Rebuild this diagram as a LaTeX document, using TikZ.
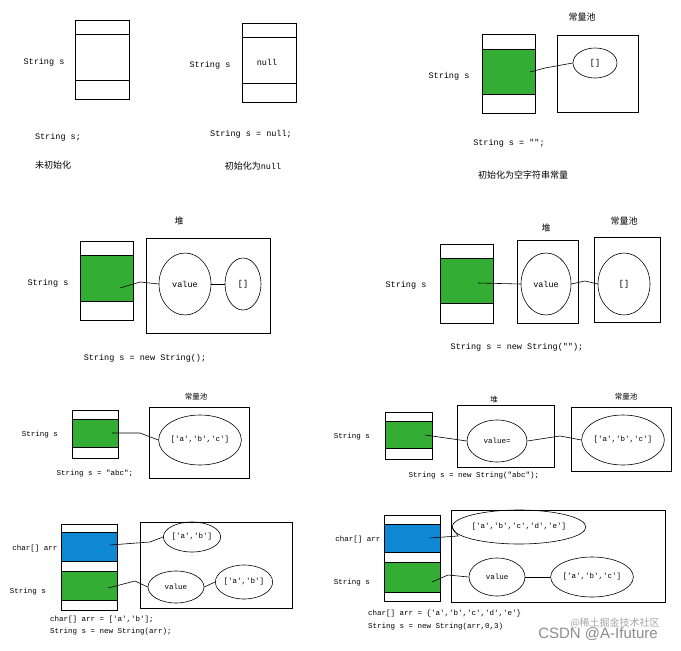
\documentclass[tikz,border=0pt]{standalone}
\usepackage{fontspec}
\usetikzlibrary{shapes.geometric}
\setmainfont{Liberation Mono}[Ligatures=TeXOff]
\newfontfamily\cjk{Noto Sans CJK SC}
\begin{document}
\begin{tikzpicture}[x=1pt,y=-1pt,
  bx/.style={draw,line width=0.8pt},
  gr/.style={draw,line width=0.8pt,fill=green!60!black!80},
  bl/.style={draw,line width=0.8pt,fill=cyan!70!blue},
  el/.style={draw,line width=0.6pt,ellipse},
  t/.style={font=\fontsize{8.5}{9}\selectfont,inner sep=0pt},
  ts/.style={font=\fontsize{7.5}{8}\selectfont,inner sep=0pt},
  c/.style={font=\cjk\fontsize{9}{10}\selectfont,inner sep=0pt},
  ln/.style={line width=0.6pt}]
\useasboundingbox (0,0) rectangle (681,651);
% panel 1
\draw[bx] (75,20) rectangle (129,99); \draw[bx] (75,34) rectangle (129,80);
\node[t] (l1) at (44,62) {String s};
\node[t] (c1) at (58,137) {String s;};
\node[c] (d1) at (53,165) {未初始化};
% panel 2
\draw[bx] (242,23) rectangle (296,102); \draw[bx] (242,37) rectangle (296,83);
\node[t] (n2) at (267,62) {null};
\node[t] (l2) at (210,65) {String s};
\node[t] (c2) at (251,134) {String s = null;};
\node[c] (d2) at (253,166) {初始化为{\fontspec{Liberation Mono}\fontsize{8.5}{9}\selectfont null}};
% panel 3
\draw[bx] (482,34) rectangle (535,113); \draw[gr] (482,49) rectangle (535,94);
\node[t] (l3) at (449,76) {String s};
\draw[bx] (557,35) rectangle (638,112);
\node[c] (p3) at (582,17) {常量池};
\node[el,minimum width=44pt,minimum height=30pt,t] (e3) at (595,63) {[]};
\coordinate (s3) at (530,72);
\draw[ln] (s3) -- (545,68) -- (e3.west);
\node[t] (c3) at (509,143) {String s = "";};
\node[c] (d3) at (523,175) {初始化为空字符串常量};
% panel 4
\draw[bx] (80,241) rectangle (133,320); \draw[gr] (80,255) rectangle (133,301);
\node[t] (l4) at (48,283) {String s};
\draw[bx] (146,238) rectangle (270,333);
\node[c] (h4) at (179,221) {堆};
\node[el,minimum width=52pt,minimum height=62pt,t] (v4) at (185,284) {value};
\node[el,minimum width=36pt,minimum height=52pt,t] (a4) at (243,284) {[]};
\coordinate (s4) at (120,288);
\draw[ln] (s4) -- (140,282) -- (v4.west);
\draw[ln] (v4.east) -- (a4.west);
\node[t] (c4) at (145,358) {String s = new String();};
% panel 5
\draw[bx] (440,244) rectangle (493,323); \draw[gr] (440,258) rectangle (493,303);
\node[t] (l5) at (406,285) {String s};
\draw[bx] (517,240) rectangle (578,323);
\node[c] (h5) at (546,228) {堆};
\node[el,minimum width=50pt,minimum height=62pt,t] (v5) at (546,284) {value};
\draw[bx] (594,237) rectangle (660,322);
\node[c] (p5) at (624,221) {常量池};
\node[el,minimum width=52pt,minimum height=62pt,t] (a5) at (624,284) {[]};
\coordinate (s5) at (478,283);
\draw[ln] (s5) -- (v5.west);
\draw[ln] (v5.east) -- (585,281) -- (a5.west);
\node[t] (c5) at (517,347) {String s = new String("");};
% panel 6
\draw[bx] (72,410) rectangle (118,458); \draw[gr] (72,419) rectangle (118,447);
\node[ts] (l6) at (40,435) {String s};
\draw[bx] (149,407) rectangle (249,478);
\node[c,font=\cjk\fontsize{7.5}{8}\selectfont] (p6) at (196,397) {常量池};
\node[el,minimum width=82pt,minimum height=50pt,ts] (e6) at (200,440) {['a','b','c']};
\coordinate (s6) at (112,433);
\draw[ln] (s6) -- (140,433) -- (e6.west);
\node[ts] (c6) at (95,474) {String s = "abc";};
% panel 7
\draw[bx] (385,412) rectangle (432,459); \draw[gr] (385,421) rectangle (432,448);
\node[ts] (l7) at (352,437) {String s};
\draw[bx] (457,405) rectangle (554,467);
\node[c,font=\cjk\fontsize{7.5}{8}\selectfont] (h7) at (494,400) {堆};
\node[el,minimum width=60pt,minimum height=42pt,ts] (v7) at (497,441) {value=};
\draw[bx] (571,407) rectangle (671,471);
\node[c,font=\cjk\fontsize{7.5}{8}\selectfont] (p7) at (626,397) {常量池};
\node[el,minimum width=82pt,minimum height=50pt,ts] (e7) at (623,440) {['a','b','c']};
\coordinate (s7) at (425,435);
\draw[ln] (s7) -- (v7.west);
\draw[ln] (v7.east) -- (560,436) -- (e7.west);
\node[ts] (c7) at (474,476) {String s = new String("abc");};
% panel 8
\draw[bx] (61,524) rectangle (117,610);
\draw[bl] (61,532) rectangle (117,561); \draw[gr] (61,571) rectangle (117,600);
\node[ts] (l8a) at (35,549) {char[] arr};
\node[ts] (l8b) at (28,592) {String s};
\draw[bx] (140,522) rectangle (292,608);
\node[el,minimum width=52pt,minimum height=30pt,ts] (e8) at (192,537) {['a','b']};
\node[el,minimum width=56pt,minimum height=32pt,ts] (v8) at (176,587) {value};
\node[el,minimum width=52pt,minimum height=34pt,ts] (a8) at (244,582) {['a','b']};
\coordinate (s8a) at (110,545);
\coordinate (s8b) at (108,588);
\draw[ln] (s8a) -- (150,542) -- (e8.west);
\draw[ln] (s8b) -- (135,581) -- (v8.west);
\draw[ln] (v8.east) -- (a8.west);
\node[ts,anchor=west] (c8a) at (50,620) {char[] arr = ['a','b'];};
\node[ts,anchor=west] (c8b) at (50,632) {String s = new String(arr);};
% panel 9
\draw[bx] (384,515) rectangle (440,601);
\draw[bl] (384,524) rectangle (440,552); \draw[gr] (384,562) rectangle (440,592);
\node[ts] (l9a) at (358,540) {char[] arr};
\node[ts] (l9b) at (352,583) {String s};
\draw[bx] (451,510) rectangle (665,602);
\node[el,minimum width=124pt,minimum height=34pt,ts] (e9) at (519,527) {['a','b','c','d','e']};
\node[el,minimum width=56pt,minimum height=38pt,ts] (v9) at (497,577) {value};
\node[el,minimum width=66pt,minimum height=40pt,ts] (a9) at (592,577) {['a','b','c']};
\coordinate (s9a) at (430,538);
\coordinate (s9b) at (432,582);
\draw[ln] (s9a) -- (458,536) -- (e9.west);
\draw[ln] (s9b) -- (448,575) -- (v9.west);
\draw[ln] (v9.east) -- (a9.west);
\node[ts,anchor=west] (c9a) at (368,614) {char[] arr = \{'a','b','c','d','e'\}};
\node[ts,anchor=west] (c9b) at (368,627) {String s = new String(arr,0,3)};
% watermarks
\node[c,text=black!35,font=\cjk\fontsize{10}{11}\selectfont] (w1) at (615,623) {@稀土掘金技术社区};
\node[inner sep=0pt,text=black!45,font=\fontspec{Liberation Sans}\fontsize{15}{16}\selectfont] (w2) at (598,634) {CSDN @A-Ifuture};
\end{tikzpicture}
\end{document}
